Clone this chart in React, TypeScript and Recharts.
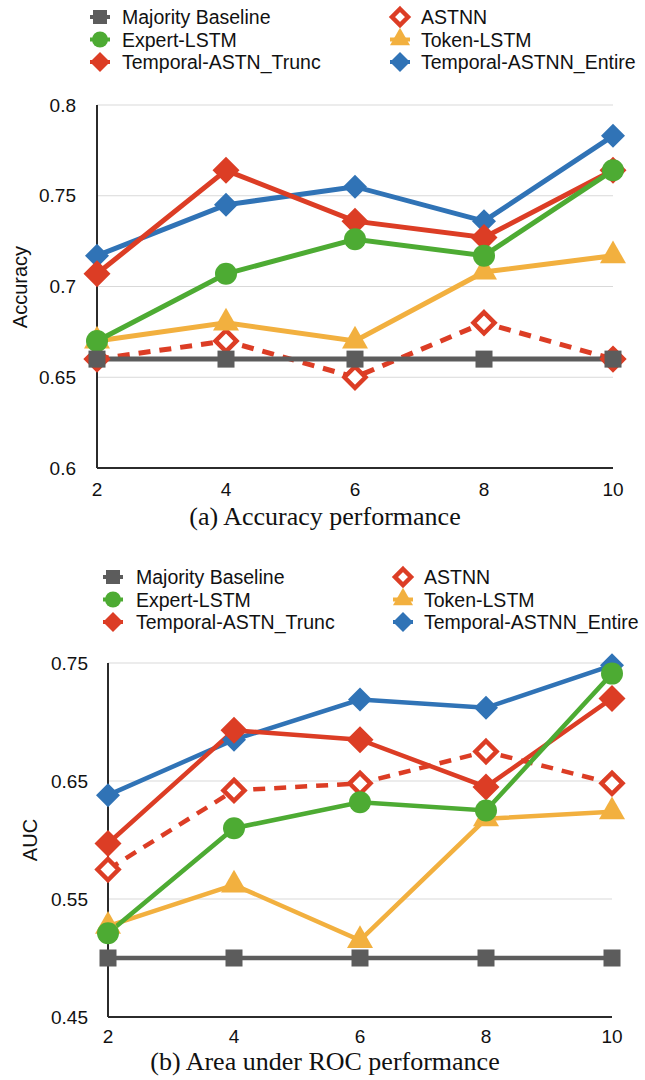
import React from 'react'
import { LineChart, Line, XAxis, YAxis, CartesianGrid } from 'recharts'

// window sizes (x axis)
const X_VALUES = [2, 4, 6, 8, 10]

// (a) accuracy
const ACC_MAJORITY = [0.66, 0.66, 0.66, 0.66, 0.66]
const ACC_ASTNN = [0.66, 0.67, 0.65, 0.68, 0.66]
const ACC_EXPERT = [0.67, 0.707, 0.726, 0.717, 0.764]
const ACC_TOKEN = [0.67, 0.68, 0.67, 0.708, 0.717]
const ACC_TRUNC = [0.707, 0.764, 0.736, 0.727, 0.764]
const ACC_ENTIRE = [0.717, 0.745, 0.755, 0.736, 0.783]
const ACC_TICKS = [0.6, 0.65, 0.7, 0.75, 0.8]

// (b) area under ROC
const AUC_MAJORITY = [0.5, 0.5, 0.5, 0.5, 0.5]
const AUC_ASTNN = [0.575, 0.642, 0.648, 0.675, 0.648]
const AUC_EXPERT = [0.521, 0.61, 0.632, 0.625, 0.741]
const AUC_TOKEN = [0.527, 0.562, 0.515, 0.618, 0.624]
const AUC_TRUNC = [0.597, 0.693, 0.685, 0.645, 0.72]
const AUC_ENTIRE = [0.638, 0.685, 0.719, 0.712, 0.748]
const AUC_TICKS = [0.45, 0.55, 0.65, 0.75]

const SANS = '"Liberation Sans", Arial, sans-serif'
const SERIF = '"Liberation Serif", "Times New Roman", serif'

type Shape = 'square' | 'circle' | 'diamond' | 'hollow' | 'triangle'

const SERIES: { key: string; name: string; color: string; shape: Shape; size: number; dashed?: boolean }[] = [
  { key: 'entire',   name: 'Temporal-ASTNN_Entire', color: '#3073b6', shape: 'diamond',  size: 12 },
  { key: 'astnn',    name: 'ASTNN',                 color: '#dc3d25', shape: 'hollow',   size: 12.5, dashed: true },
  { key: 'trunc',    name: 'Temporal-ASTN_Trunc',   color: '#dc3d25', shape: 'diamond',  size: 13.5 },
  { key: 'token',    name: 'Token-LSTM',            color: '#f2b03f', shape: 'triangle', size: 13 },
  { key: 'expert',   name: 'Expert-LSTM',           color: '#4dab33', shape: 'circle',   size: 11 },
  { key: 'majority', name: 'Majority Baseline',     color: '#5c5c5c', shape: 'square',   size: 8.5 },
]

// legend is laid out column by column, like the original
const LEGEND_ORDER = [['majority', 'expert', 'trunc'], ['astnn', 'token', 'entire']]

function buildRows(cols: Record<string, number[]>) {
  return X_VALUES.map((x, i) => {
    const row: Record<string, number> = { x }
    Object.keys(cols).forEach((k) => { row[k] = cols[k][i] })
    return row
  })
}

const ACC_ROWS = buildRows({
  majority: ACC_MAJORITY, astnn: ACC_ASTNN, expert: ACC_EXPERT,
  token: ACC_TOKEN, trunc: ACC_TRUNC, entire: ACC_ENTIRE,
})
const AUC_ROWS = buildRows({
  majority: AUC_MAJORITY, astnn: AUC_ASTNN, expert: AUC_EXPERT,
  token: AUC_TOKEN, trunc: AUC_TRUNC, entire: AUC_ENTIRE,
})

function Marker({ shape, cx, cy, color, s }: { shape: Shape; cx: number; cy: number; color: string; s: number }) {
  if (shape === 'square') return <rect x={cx - s} y={cy - s} width={s * 2} height={s * 2} fill={color} />
  if (shape === 'circle') return <circle cx={cx} cy={cy} r={s} fill={color} />
  if (shape === 'triangle') {
    const h = s * 1.75
    return <polygon points={`${cx},${cy - (h * 2) / 3} ${cx - s},${cy + h / 3} ${cx + s},${cy + h / 3}`} fill={color} />
  }
  if (shape === 'hollow') {
    const t = s - 2
    return <polygon points={`${cx},${cy - t} ${cx + t},${cy} ${cx},${cy + t} ${cx - t},${cy}`} fill="#fff" stroke={color} strokeWidth={4.5} />
  }
  return <polygon points={`${cx},${cy - s} ${cx + s},${cy} ${cx},${cy + s} ${cx - s},${cy}`} fill={color} />
}

function Panel({ rows, ticks, domain, width, height, margin, yWidth, yTickMargin, xTickMargin, lineWidth }: {
  rows: Record<string, number>[]; ticks: number[]; domain: [number, number]
  width: number; height: number; margin: { top: number; right: number; bottom: number; left: number }
  yWidth: number; yTickMargin: number; xTickMargin: number; lineWidth: number
}) {
  return (
    <LineChart width={width} height={height} data={rows} margin={margin}>
      <CartesianGrid horizontal vertical={false} stroke="#d9d9d9" strokeWidth={1} />
      <XAxis
        dataKey="x" type="number" domain={[2, 10]} ticks={X_VALUES}
        tickLine={false} tickSize={0} tickMargin={xTickMargin} height={40}
        axisLine={{ stroke: '#2b2b2b', strokeWidth: 2 }}
        tick={{ fill: '#111', fontSize: 19, fontFamily: SANS }}
      />
      <YAxis
        type="number" domain={domain} ticks={ticks} width={yWidth}
        tickLine={false} tickSize={0} tickMargin={yTickMargin}
        axisLine={{ stroke: '#2b2b2b', strokeWidth: 2 }}
        tick={{ fill: '#111', fontSize: 19, fontFamily: SANS }}
      />
      {SERIES.map((s) => (
        <Line
          key={s.key}
          dataKey={s.key}
          name={s.name}
          stroke={s.color}
          strokeWidth={lineWidth}
          strokeDasharray={s.dashed ? '12 9' : undefined}
          isAnimationActive={false}
          activeDot={false}
          dot={(p: any) => (
            <Marker key={`${s.key}-${p.index}`} shape={s.shape} cx={p.cx} cy={p.cy} color={s.color} s={s.size} />
          )}
        />
      ))}
    </LineChart>
  )
}

function Legend({ top, xs, textXs }: { top: number; xs: number[]; textXs: number[] }) {
  return (
    <>
      {LEGEND_ORDER.map((col, ci) =>
        col.map((k, ri) => {
          const s = SERIES.find((q) => q.key === k)!
          const y = top + ri * 22.5
          return (
            <g key={k}>
              {s.shape !== 'hollow' && (
                <line x1={xs[ci] - 10} x2={xs[ci] + 10} y1={y} y2={y} stroke={s.color} strokeWidth={4} />
              )}
              <Marker shape={s.shape} cx={xs[ci]} cy={y} color={s.color} s={s.shape === 'square' ? 7 : s.shape === 'circle' ? 8 : 10} />
              <text x={textXs[ci]} y={y} dominantBaseline="central" fontSize={19.5} fontFamily={SANS} fill="#111">
                {s.name}
              </text>
            </g>
          )
        }),
      )}
    </>
  )
}

export default function App() {
  return (
    <div style={{ position: 'absolute', left: 0, top: 0, width: 645, height: 1080, background: '#fff', overflow: 'hidden' }}>
      <div style={{ position: 'absolute', left: 0, top: 0 }}>
        <Panel
          rows={ACC_ROWS} ticks={ACC_TICKS} domain={[0.6, 0.8]}
          width={645} height={508} margin={{ top: 105, right: 32, bottom: 0, left: 0 }}
          yWidth={97} yTickMargin={21} xTickMargin={15} lineWidth={5}
        />
      </div>
      <div style={{ position: 'absolute', left: 0, top: 560 }}>
        <Panel
          rows={AUC_ROWS} ticks={AUC_TICKS} domain={[0.45, 0.75]}
          width={645} height={497} margin={{ top: 103, right: 33, bottom: 0, left: 0 }}
          yWidth={108} yTickMargin={20} xTickMargin={13} lineWidth={4.5}
        />
      </div>
      <svg width={645} height={1080} style={{ position: 'absolute', left: 0, top: 0, pointerEvents: 'none' }}>
        <Legend top={17} xs={[100, 400]} textXs={[122, 421]} />
        <Legend top={577} xs={[113, 403]} textXs={[136, 424]} />
        <text x={20} y={287} transform="rotate(-90 20 287)" textAnchor="middle" dominantBaseline="central" fontSize={20} fontFamily={SANS} fill="#111">
          Accuracy
        </text>
        <text x={30} y={840} transform="rotate(-90 30 840)" textAnchor="middle" dominantBaseline="central" fontSize={20} fontFamily={SANS} fill="#111">
          AUC
        </text>
        <text x={325} y={525} textAnchor="middle" fontSize={26} fontFamily={SERIF} fill="#111">
          (a) Accuracy performance
        </text>
        <text x={325} y={1070} textAnchor="middle" fontSize={26} fontFamily={SERIF} fill="#111">
          (b) Area under ROC performance
        </text>
      </svg>
    </div>
  )
}
